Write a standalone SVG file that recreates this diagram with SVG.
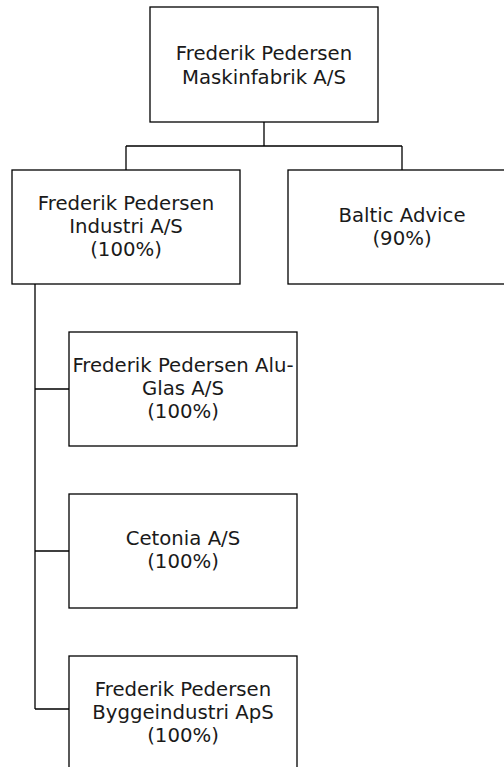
<svg xmlns="http://www.w3.org/2000/svg" width="504" height="767" viewBox="0 0 504 767">
<style>
rect{fill:#fff;stroke:#000;stroke-width:1.3}
text{font-family:"DejaVu Sans",sans-serif;font-size:19.7px;fill:#1a1a1a;text-anchor:middle}
#connectors path{fill:none;stroke:#000;stroke-width:1.3}
</style>
<rect x="0" y="0" width="504" height="767" style="stroke:none"/>
<g id="connectors">
<path d="M264 122V146M126 146H402M126 146V170M402 146V170"/>
<path d="M35 284V709M35 389H69M35 551H69M35 709H69"/>
</g>
<g id="n-top">
<rect x="150" y="7" width="228" height="115"/>
<text x="264" y="60">Frederik Pedersen</text>
<text x="264" y="84">Maskinfabrik A/S</text>
</g>
<g id="n-industri">
<rect x="12" y="170" width="228" height="114"/>
<text x="126" y="210">Frederik Pedersen</text>
<text x="126" y="233">Industri A/S</text>
<text x="126" y="256">(100%)</text>
</g>
<g id="n-baltic">
<rect x="288" y="170" width="228" height="114"/>
<text x="402" y="222">Baltic Advice</text>
<text x="402" y="245">(90%)</text>
</g>
<g id="n-aluglas">
<rect x="69" y="332" width="228" height="114"/>
<text x="183" y="372">Frederik Pedersen Alu-</text>
<text x="183" y="395">Glas A/S</text>
<text x="183" y="418">(100%)</text>
</g>
<g id="n-cetonia">
<rect x="69" y="494" width="228" height="114"/>
<text x="183" y="545">Cetonia A/S</text>
<text x="183" y="568">(100%)</text>
</g>
<g id="n-bygge">
<rect x="69" y="656" width="228" height="114"/>
<text x="183" y="696">Frederik Pedersen</text>
<text x="183" y="719">Byggeindustri ApS</text>
<text x="183" y="742">(100%)</text>
</g>
</svg>
